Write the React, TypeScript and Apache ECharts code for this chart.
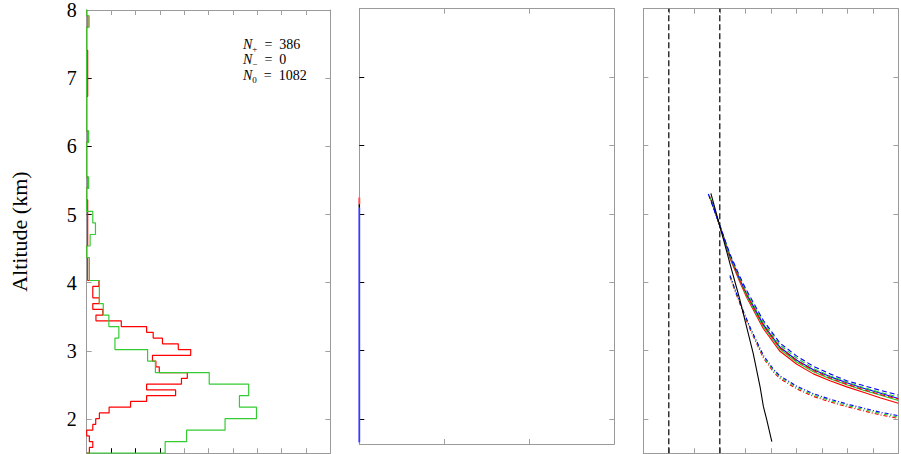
import React, { useEffect, useRef } from "react";
import * as echarts from "echarts";

// ---------------- data ----------------
const ALT_MIN = 1.5;
const ALT_MAX = 8;
const MID_ALT_MIN = 1.636;
const altTickValues = [2, 3, 4, 5, 6, 7, 8];

// Panel 1: histograms (x = count scale, y = altitude bins starting at 1.5 km)
const redBinWidth = 6.5 / 77;
const redCounts = [
  0.11, 0.25, 0.11, 0, 0.25, 0.37, 0.52, 0.92, 1.8, 2.46,
  3.65, 2.46, 3.89, 4.13, 2.98, 2.84, 2.7, 4.27, 3.76, 3.11,
  2.73, 2.46, 1.42, 0.38, 0.66, 0.25, 0.52, 0.25, 0.25, 0.5,
  0.04, 0.04, 0.04, 0.04, 0, 0, 0.04, 0.04, 0.04, 0.04,
  0.04, 0.04, 0.04, 0.04, 0, 0, 0.05, 0.05, 0, 0,
  0, 0, 0, 0, 0.05, 0.05, 0, 0, 0, 0,
  0, 0, 0.04, 0.04, 0.04, 0.04, 0.04, 0.04, 0.04, 0.04,
  0, 0, 0, 0, 0.05, 0.05, 0,
];
const greenBinWidth = (2 * 6.5) / 77;
const greenCounts = [
  3.22, 4.1, 5.68, 6.97, 6.27, 6.65, 5.03, 2.82, 2.5, 1.16,
  1.32, 0.91, 0.68, 0.52, 0.52, 0.11, 0.11, 0, 0.14, 0.36,
  0.25, 0, 0, 0.08, 0, 0, 0, 0.08, 0, 0,
  0, 0, 0, 0, 0, 0, 0, 0.1, 0,
];

// Panel 2: profiles at x = 0
const midRed = [[0, 5.24], [0, 5.14]];
const midBlack = [[0, 5.14], [0, 5.09]];
const midBlue = [[0, 5.09], [0, 1.66]];

// Panel 3: profiles
const refLineA = [[1, ALT_MIN], [1, ALT_MAX]];
const refLineB = [[3, ALT_MIN], [3, ALT_MAX]];
const blackProfile = [
  [2.65, 5.3], [3.01, 4.81], [3.4, 4.27], [3.79, 3.74], [4.31, 2.96],
  [4.58, 2.47], [4.71, 2.18], [4.84, 1.99], [5.04, 1.67],
];
const solidRed = [
  [2.66, 5.2], [3.07, 4.74], [3.4, 4.35], [3.79, 4.0], [4.05, 3.78], [4.71, 3.32],
  [5.36, 2.99], [6.02, 2.8], [6.67, 2.66], [7.32, 2.56], [7.98, 2.47], [8.63, 2.39],
  [9.28, 2.31], [10, 2.23],
];
const solidGreen = [
  [2.66, 5.2], [3.07, 4.74], [3.4, 4.36], [3.79, 4.02], [4.05, 3.8], [4.71, 3.35],
  [5.36, 3.02], [6.02, 2.83], [6.67, 2.69], [7.32, 2.59], [7.98, 2.5], [8.63, 2.42],
  [9.28, 2.35], [10, 2.27],
];
const solidBlue = [
  [2.66, 5.2], [3.07, 4.75], [3.4, 4.38], [3.79, 4.04], [4.05, 3.83], [4.71, 3.38],
  [5.36, 3.05], [6.02, 2.86], [6.67, 2.72], [7.32, 2.62], [7.98, 2.53], [8.63, 2.45],
  [9.28, 2.38], [10, 2.3],
];
const dashedRed = [
  [2.6, 5.26], [3.07, 4.75], [3.4, 4.37], [3.79, 4.03], [4.05, 3.82], [4.71, 3.37],
  [5.36, 3.04], [6.02, 2.85], [6.67, 2.71], [7.32, 2.6], [7.98, 2.51], [8.63, 2.43],
  [9.28, 2.36], [10, 2.29],
];
const dashedGreen = [
  [2.58, 5.27], [3.07, 4.76], [3.4, 4.39], [3.79, 4.06], [4.05, 3.85], [4.71, 3.41],
  [5.36, 3.08], [6.02, 2.89], [6.67, 2.74], [7.32, 2.63], [7.98, 2.54], [8.63, 2.46],
  [9.28, 2.39], [10, 2.32],
];
const dashedBlue = [
  [2.55, 5.29], [3.07, 4.76], [3.4, 4.41], [3.79, 4.08], [4.05, 3.88], [4.71, 3.44],
  [5.36, 3.11], [6.02, 2.92], [6.67, 2.77], [7.32, 2.66], [7.98, 2.56], [8.63, 2.49],
  [9.28, 2.42], [10, 2.35],
];
const dashDotRed = [
  [3.4, 4.08], [3.63, 3.84], [3.92, 3.55], [4.2, 3.3], [4.71, 2.89], [5.1, 2.69],
  [5.36, 2.59], [6.02, 2.44], [6.67, 2.33], [7.32, 2.25], [7.98, 2.18], [8.63, 2.12],
  [9.28, 2.06], [10, 2.01],
];
const dashDotGreen = [
  [3.4, 4.09], [3.63, 3.85], [3.92, 3.57], [4.2, 3.32], [4.71, 2.91], [5.1, 2.71],
  [5.36, 2.61], [6.02, 2.46], [6.67, 2.35], [7.32, 2.27], [7.98, 2.2], [8.63, 2.14],
  [9.28, 2.08], [10, 2.03],
];
const dashDotBlue = [
  [3.4, 4.1], [3.63, 3.86], [3.92, 3.58], [4.2, 3.33], [4.71, 2.93], [5.1, 2.73],
  [5.36, 2.63], [6.02, 2.48], [6.67, 2.37], [7.32, 2.29], [7.98, 2.22], [8.63, 2.16],
  [9.28, 2.1], [10, 2.05],
];

const annotations = [
  { sub: "+", value: "386" },
  { sub: "\u2212", value: "0" },
  { sub: "0", value: "1082" },
];

// ---------------- helpers ----------------
function stepPath(counts: number[], width: number, start: number) {
  const pts: number[][] = [[0, start]];
  counts.forEach((v, i) => {
    const lo = start + i * width;
    pts.push([v, lo], [v, lo + width]);
  });
  pts.push([0, start + counts.length * width]);
  return pts;
}

const SERIF = "'Liberation Serif', 'DejaVu Serif', serif";
const GRAY = "#a0a0a0";
const AXIS_GRAY = "#9a9a9a";

function xAxis(grid: number, pos: string, max: number, ticks: number[], color: string, showLine = true) {
  return {
    type: "value", gridIndex: grid, position: pos, min: 0, max,
    axisLine: { show: showLine, onZero: false, lineStyle: { color: AXIS_GRAY, width: 1 } },
    axisTick: { show: true, inside: true, length: 5, customValues: ticks, lineStyle: { color, width: 1 } },
    axisLabel: { show: false },
    splitLine: { show: false },
  };
}
function yAxis(grid: number, pos: string, min: number, ticks: number[], color: string, showLine = true, extra: any = {}) {
  return {
    type: "value", gridIndex: grid, position: pos, min, max: ALT_MAX,
    axisLine: { show: showLine, onZero: false, lineStyle: { color: AXIS_GRAY, width: 1 } },
    axisTick: { show: true, inside: true, length: 5, customValues: ticks, lineStyle: { color, width: 1 } },
    axisLabel: { show: false },
    splitLine: { show: false },
    ...extra,
  };
}
function line(data: number[][], x: number, y: number, color: string, width: number, type: any = "solid", z = 2) {
  return {
    type: "line", xAxisIndex: x, yAxisIndex: y, data, showSymbol: false, symbol: "none",
    lineStyle: { color, width, type }, z, silent: true, clip: true,
  };
}

export default function App() {
  const ref = useRef<HTMLDivElement>(null);
  useEffect(() => {
    document.body.style.margin = "0";
    const chart = echarts.init(ref.current!, null, { renderer: "svg" });
    const xs = [
      xAxis(0, "bottom", 10, [4, 5, 6, 7, 8, 9], GRAY), // 0
      xAxis(0, "bottom", 10, [1, 2, 3], "#000", false), // 1
      xAxis(0, "top", 10, [1, 2, 3, 4, 5, 6, 7, 8, 9], GRAY), // 2
      xAxis(1, "bottom", 3, [1, 2], GRAY), // 3
      xAxis(1, "top", 3, [1, 2], GRAY), // 4
      xAxis(2, "bottom", 10, [1, 2, 3, 4, 5, 6, 7, 8, 9], GRAY), // 5
      xAxis(2, "top", 10, [1, 2, 3, 4, 5, 6, 7, 8, 9], GRAY), // 6
    ];
    const ys = [
      yAxis(0, "left", ALT_MIN, [2, 3, 4], GRAY, true, {
        axisLabel: {
          show: true, customValues: altTickValues, margin: 10,
          fontFamily: SERIF, fontSize: 20, color: "#000",
        },
        name: "Altitude (km)", nameLocation: "middle", nameGap: 56, nameRotate: 90,
        nameTextStyle: { fontFamily: SERIF, fontSize: 22, color: "#000" },
      }), // 0
      yAxis(0, "left", ALT_MIN, [5, 6, 7], "#000", false), // 1
      yAxis(0, "right", ALT_MIN, [2, 3, 4, 5, 6, 7], GRAY), // 2
      yAxis(1, "left", MID_ALT_MIN, [2, 3, 4, 5, 6, 7], "#000"), // 3
      yAxis(1, "right", MID_ALT_MIN, [2, 3, 4, 5, 6, 7], GRAY), // 4
      yAxis(2, "left", ALT_MIN, [2, 3, 4, 5, 6, 7], GRAY), // 5
      yAxis(2, "right", ALT_MIN, [2, 3, 4, 5, 6, 7], GRAY), // 6
    ];
    const richStyle = {
      n: { fontFamily: SERIF, fontStyle: "italic", fontSize: 14, lineHeight: 18, verticalAlign: "middle", fill: "#000" },
      s: { fontFamily: SERIF, fontSize: 9, lineHeight: 18, verticalAlign: "bottom", fill: "#000" },
      t: { fontFamily: SERIF, fontSize: 14, lineHeight: 18, verticalAlign: "middle", fill: "#000" },
    };
    const option: any = {
      animation: false,
      backgroundColor: "#fff",
      grid: [
        { left: 86.7, top: 8.7, width: 243.6, height: 444.5 },
        { left: 359.3, top: 8.7, width: 255, height: 435.3 },
        { left: 643.3, top: 8.7, width: 255, height: 444.5 },
      ],
      xAxis: xs,
      yAxis: ys,
      graphic: annotations.map((a, i) => ({
        type: "text",
        x: 243,
        y: 44 + i * 15.8,
        style: {
          text: `{n|N}{s|${a.sub}}{t|  =  ${a.value}}`,
          rich: richStyle,
          verticalAlign: "middle",
          align: "left",
        },
        z: 10,
      })),
      series: [
        line(stepPath(redCounts, redBinWidth, ALT_MIN), 0, 0, "#ff0000", 1.2),
        line(stepPath(greenCounts, greenBinWidth, ALT_MIN), 0, 0, "#33cc33", 1.2),

        line(midRed, 3, 3, "#ff5050", 2),
        line(midBlack, 3, 3, "#000", 1.5),
        line(midBlue, 3, 3, "#3a3aff", 1.8),

        line(refLineA, 5, 5, "#000", 1.2, [6, 3]),
        line(refLineB, 5, 5, "#000", 1.2, [6, 3]),
        line(dashDotRed, 5, 5, "#ff0000", 1.1, [4, 2, 1, 2]),
        line(dashDotGreen, 5, 5, "#22cc22", 1.1, [4, 2, 1, 2]),
        line(dashDotBlue, 5, 5, "#0000ff", 1.1, [4, 2, 1, 2]),
        line(solidRed, 5, 5, "#ff0000", 1.1),
        line(solidGreen, 5, 5, "#22cc22", 1.1),
        line(solidBlue, 5, 5, "#0000ff", 1.1),
        line(dashedRed, 5, 5, "#ff0000", 1.1, [5, 3]),
        line(dashedGreen, 5, 5, "#22cc22", 1.1, [5, 3]),
        line(dashedBlue, 5, 5, "#0000ff", 1.1, [5, 3]),
        line(blackProfile, 5, 5, "#000", 1.1),
      ],
    };
    chart.setOption(option);
    return () => chart.dispose();
  }, []);
  return <div ref={ref} style={{ width: 901, height: 454 }} />;
}
